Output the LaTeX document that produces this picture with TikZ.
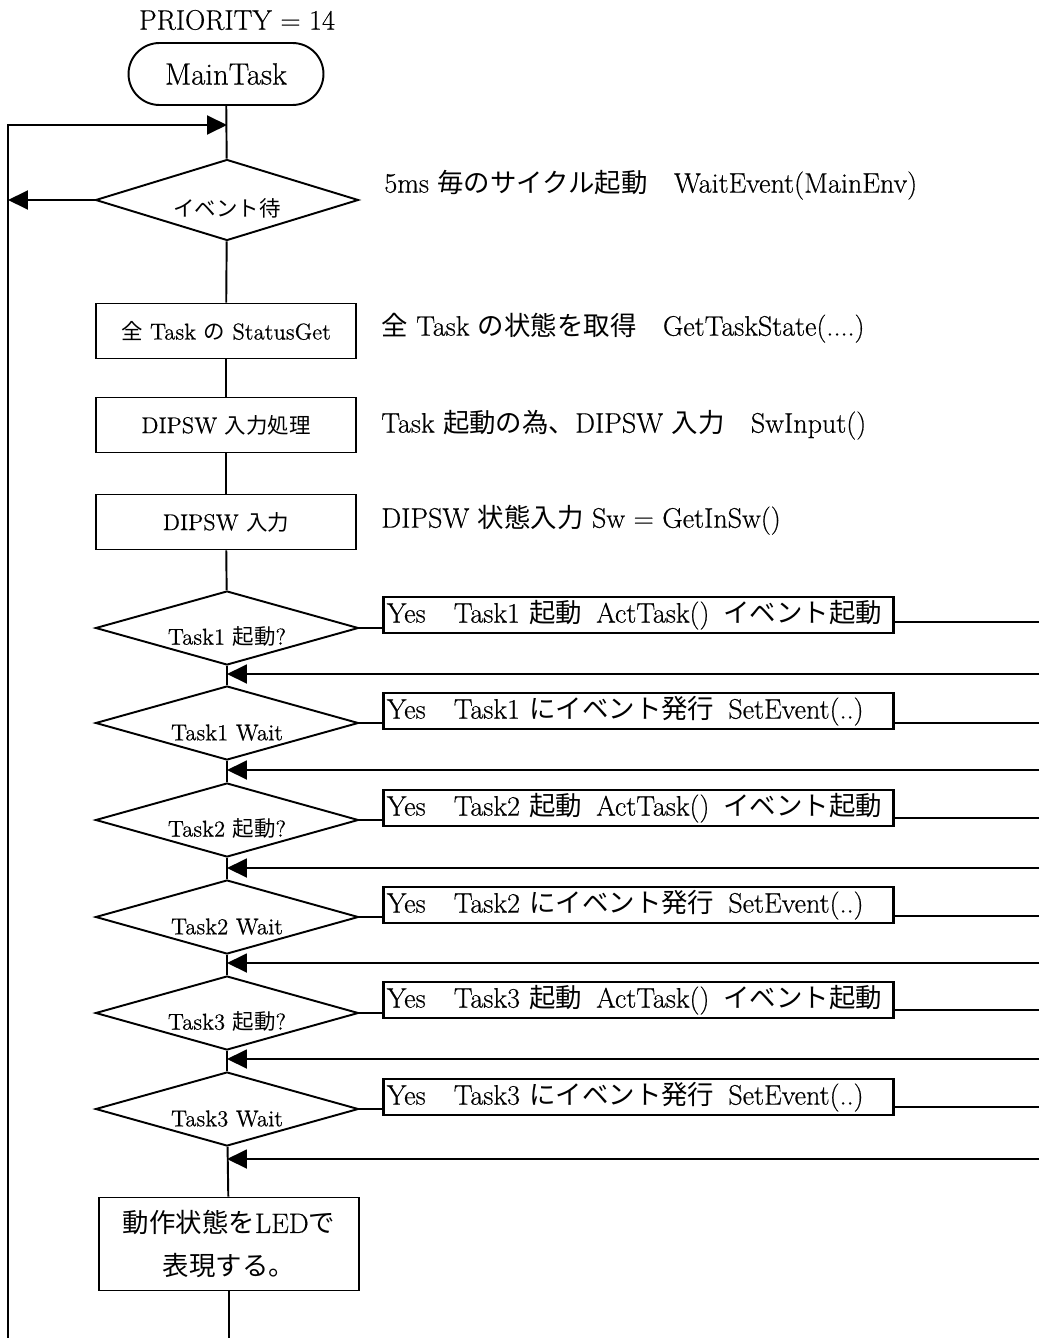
\documentclass[tikz,border=0pt]{standalone}
\usepackage{fontspec}
\setmainfont{Latin Modern Roman}[FakeBold=0.5]
\newfontfamily\jp{Noto Sans CJK JP}[Scale=0.94]
\usetikzlibrary{shapes.geometric,arrows.meta}
\tikzset{
	flow/.style={line width=1.1pt},
	tip/.style={-{Triangle[length=0.4cm,width=0.38cm]}},
	big/.style={font=\fontsize{16}{19}\selectfont},
	small/.style={font=\fontsize{13}{15}\selectfont},
	procbox/.style={draw, line width=1.1pt, minimum width=5.2cm, minimum height=1.1cm, inner sep=0pt, small},
	judge/.style={draw, diamond, aspect=3.5, line width=1.1pt, minimum width=5.26cm, minimum height=1.48cm, inner sep=0pt, text height=0.7cm, small},
	yesbox/.style={draw, line width=1.6pt, anchor=west, text width=10.06cm, minimum height=0.72cm, inner xsep=2pt, inner ysep=0pt, align=left, big},
	note/.style={anchor=west, inner sep=0pt, big},
}

\begin{document}
\begin{tikzpicture}[x=0.02cm,y=-0.02cm]
			%%%%% START %%%%%
			\def\xm{227}
			\def\xl{8}
			\def\xr{1039}
			\def\xy{382}
			\def\xn{381}
			\def\yb{1338}
			
			\useasboundingbox (0,0) rectangle (\xr,\yb);
			
			\node[big] (prio) at (237,20) {PRIORITY = 14};
			\node[draw, line width=1.1pt, rounded corners=0.62cm, minimum width=3.9cm, minimum height=1.24cm, font=\fontsize{17.5}{20}\selectfont] (main) at (226,74) {MainTask};
			
			\coordinate (loopin) at (\xm,125);
			\coordinate (loopbot) at (\xl,\yb);
			\node[judge, minimum height=1.62cm] (wait) at (\xm,200) {{\jp イベント待}};
			\node[note] (waitnote) at (384,185) {5ms {\jp 毎のサイクル起動　}WaitEvent(MainEnv)};
			
			\draw[flow] (main) -- (wait);
			\draw[flow,tip] (loopbot) |- (loopin);
			\draw[flow,tip] (wait.west) -- (wait.west -| loopbot);
			
			\node[procbox] (stat) at (226,331) {{\jp 全} Task {\jp の} StatusGet};
			\node[note] (statnote) at (\xn,328) {{\jp 全} Task {\jp の状態を取得　}GetTaskState(....)};
			\node[procbox] (dsw) at (226,425) {DIPSW {\jp 入力処理}};
			\node[note] (dswnote) at (\xn,425) {Task {\jp 起動の為、}DIPSW {\jp 入力　}SwInput()};
			\node[procbox] (din) at (226,522) {DIPSW {\jp 入力}};
			\node[note] (dinnote) at (\xn,520) {DIPSW {\jp 状態入力} Sw = GetInSw()};
			
			\draw[flow] (wait) -- (stat);
			\draw[flow] (stat) -- (dsw);
			\draw[flow] (dsw) -- (din);
			
			% Task1
			\node[judge] (q1) at (\xm,628) {Task1 {\jp 起動}?};
			\node[yesbox] (y1) at (\xy,615) {\mbox{Yes\quad Task1 {\jp 起動}\enspace ActTask()\enspace {\jp イベント起動}}};
			\coordinate (r1) at (\xr,622);
			\coordinate (b1) at (\xr,674);
			\node[judge] (q2) at (\xm,723) {Task1 Wait};
			\node[yesbox] (y2) at (\xy,711) {\mbox{Yes\quad Task1 {\jp にイベント発行}\enspace SetEvent(..)}};
			\coordinate (r2) at (\xr,723);
			\coordinate (b2) at (\xr,770);
			
			% Task2
			\node[judge] (q3) at (\xm,820) {Task2 {\jp 起動}?};
			\node[yesbox] (y3) at (\xy,808) {\mbox{Yes\quad Task2 {\jp 起動}\enspace ActTask()\enspace {\jp イベント起動}}};
			\coordinate (r3) at (\xr,818);
			\coordinate (b3) at (\xr,868);
			\node[judge] (q4) at (\xm,917) {Task2 Wait};
			\node[yesbox] (y4) at (\xy,905) {\mbox{Yes\quad Task2 {\jp にイベント発行}\enspace SetEvent(..)}};
			\coordinate (r4) at (\xr,916);
			\coordinate (b4) at (\xr,963);
			
			% Task3
			\node[judge] (q5) at (\xm,1013) {Task3 {\jp 起動}?};
			\node[yesbox] (y5) at (\xy,1000) {\mbox{Yes\quad Task3 {\jp 起動}\enspace ActTask()\enspace {\jp イベント起動}}};
			\coordinate (r5) at (\xr,1010);
			\coordinate (b5) at (\xr,1059);
			\node[judge] (q6) at (\xm,1109) {Task3 Wait};
			\node[yesbox] (y6) at (\xy,1097) {\mbox{Yes\quad Task3 {\jp にイベント発行}\enspace SetEvent(..)}};
			\coordinate (r6) at (\xr,1107);
			\coordinate (b6) at (\xr,1159);
			
			\draw[flow] (din) -- (q1);
			\draw[flow] (q1) -- (q2);
			\draw[flow] (q2) -- (q3);
			\draw[flow] (q3) -- (q4);
			\draw[flow] (q4) -- (q5);
			\draw[flow] (q5) -- (q6);
			
			\draw[flow] (q1.east) -- (q1.east -| y1.west);
			\draw[flow] (y1.east |- r1) -- (r1);
			\draw[flow,tip] (b1) -- (b1 -| q1.south);
			\draw[flow] (q2.east) -- (q2.east -| y2.west);
			\draw[flow] (y2.east |- r2) -- (r2);
			\draw[flow,tip] (b2) -- (b2 -| q2.south);
			\draw[flow] (q3.east) -- (q3.east -| y3.west);
			\draw[flow] (y3.east |- r3) -- (r3);
			\draw[flow,tip] (b3) -- (b3 -| q3.south);
			\draw[flow] (q4.east) -- (q4.east -| y4.west);
			\draw[flow] (y4.east |- r4) -- (r4);
			\draw[flow,tip] (b4) -- (b4 -| q4.south);
			\draw[flow] (q5.east) -- (q5.east -| y5.west);
			\draw[flow] (y5.east |- r5) -- (r5);
			\draw[flow,tip] (b5) -- (b5 -| q5.south);
			\draw[flow] (q6.east) -- (q6.east -| y6.west);
			\draw[flow] (y6.east |- r6) -- (r6);
			\draw[flow,tip] (b6) -- (b6 -| q6.south);
			
			\node[procbox, minimum height=1.86cm, align=center, font=\fontsize{16}{24}\selectfont] (led) at (229,1244) {{\jp 動作状態を}LED{\jp で}\\{\jp 表現する。}};
			\draw[flow] (q6) -- (led);
			\draw[flow] (led) -- (led.south |- loopbot);
			%%%%% END %%%%%
\end{tikzpicture}
\end{document}
